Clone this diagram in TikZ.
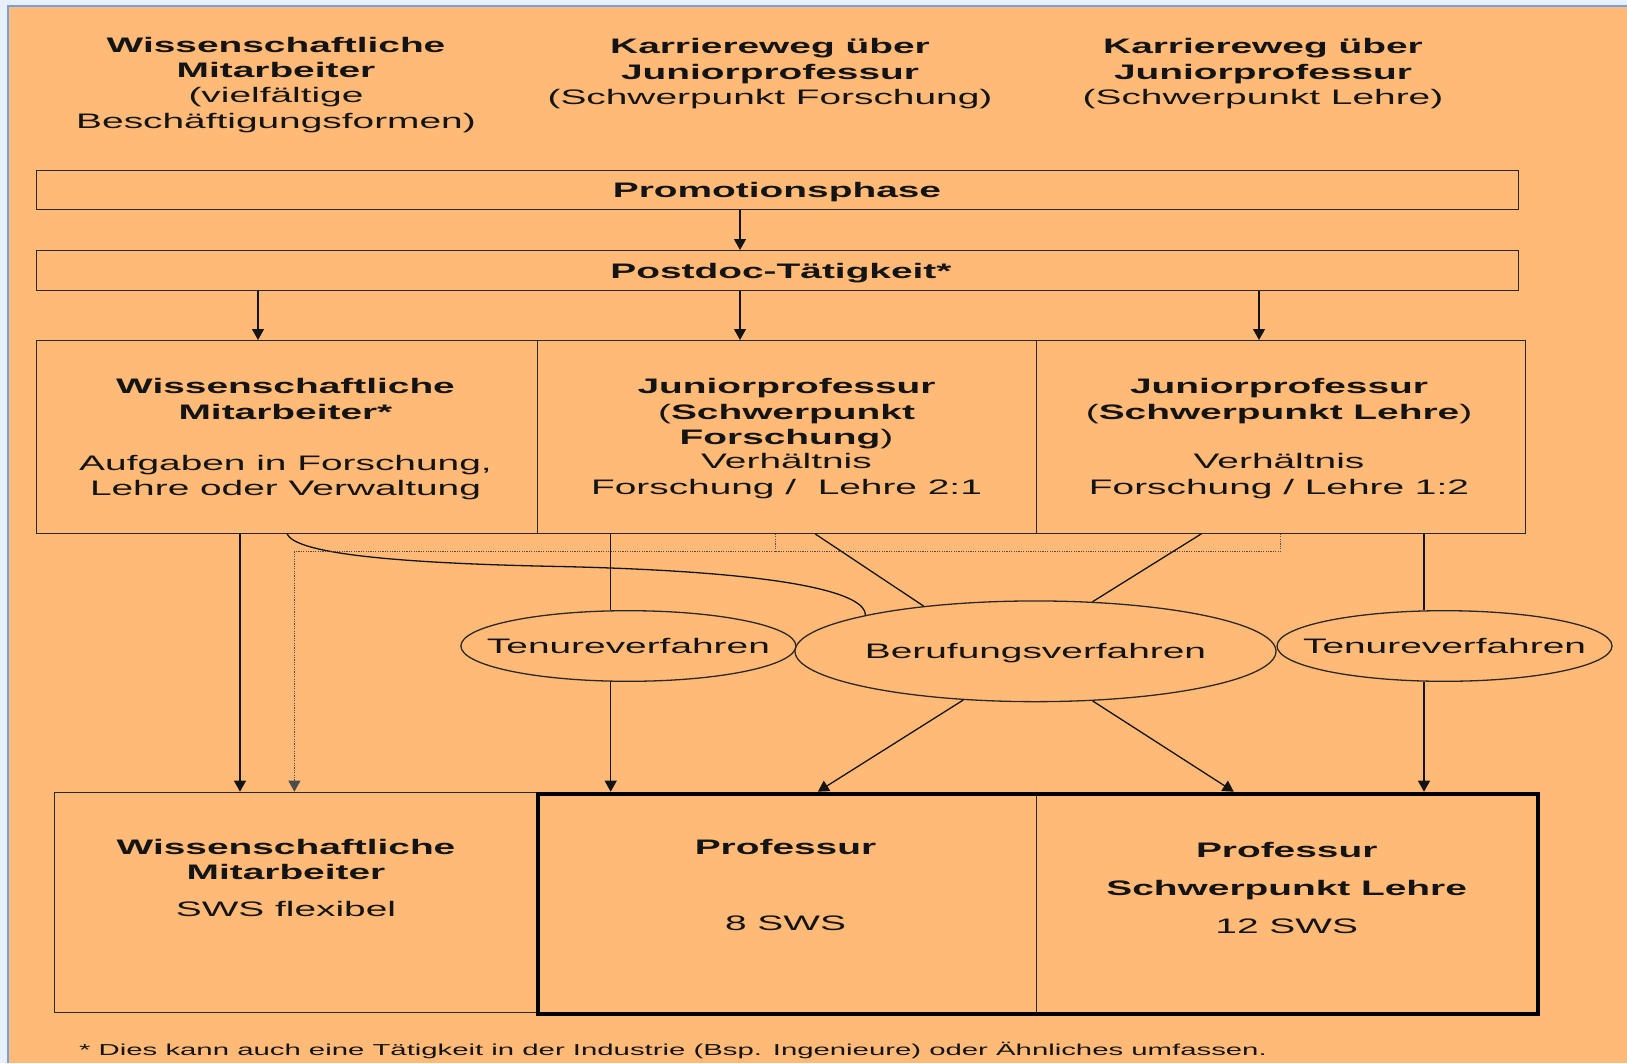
\documentclass[tikz,border=0pt]{standalone}
\usepackage{fontspec}
\setmainfont{Liberation Sans}[FakeStretch=1.85]
\usetikzlibrary{shapes.geometric,arrows.meta}
\definecolor{bgorange}{RGB}{255,186,120}
\definecolor{outerblue}{RGB}{232,240,252}
\definecolor{borderblue}{RGB}{120,160,225}
\definecolor{ink}{RGB}{20,20,20}
\definecolor{boxline}{RGB}{45,40,35}
\begin{document}
\begin{tikzpicture}[x=1pt,y=-1pt,
  lbl/.style={anchor=base, inner sep=0pt, text=ink, font=\fontsize{21}{25}\selectfont},
  lblb/.style={lbl, font=\fontsize{21}{25}\selectfont\bfseries},
  box/.style={draw=boxline, line width=1.3pt, anchor=north west, inner sep=0pt},
  oval/.style={ellipse, draw=boxline, line width=1.3pt, inner sep=0pt, text=ink, font=\fontsize{21}{25}\selectfont, text height=15pt, text depth=0pt},
  con/.style={draw=ink, line width=1.3pt},
  arr/.style={con, -{Triangle[width=12pt,length=11pt]}},
  dots/.style={draw=black!70, line width=1pt, dash pattern=on 1.2pt off 1.2pt},
]
\useasboundingbox (0,0) rectangle (1627,1063);
\fill[outerblue] (0,0) rectangle (1627,1063);
\fill[bgorange] (8,6) rectangle (1627,1063);
\draw[borderblue, line width=1.5pt] (8,1063) -- (8,6) -- (1627,6);

% header texts
\node[lblb] (h1a) at (276,52.3) {Wissenschaftliche};
\node[lblb] (h1b) at (276,77.7) {Mitarbeiter};
\node[lbl]  (h1c) at (276,102.3) {(vielfältige};
\node[lbl]  (h1d) at (276,128.3) {Beschäftigungsformen)};
\node[lblb] (h2a) at (770,53.3) {Karriereweg über};
\node[lblb] (h2b) at (770,79) {Juniorprofessur};
\node[lbl]  (h2c) at (770,104) {(Schwerpunkt Forschung)};
\node[lblb] (h3a) at (1263,53.3) {Karriereweg über};
\node[lblb] (h3b) at (1263,79) {Juniorprofessur};
\node[lbl]  (h3c) at (1263,104) {(Schwerpunkt Lehre)};

% boxes
\node[box, minimum width=1482.3pt, minimum height=39pt] (prom) at (35.7,170) {};
\node[box, minimum width=1482.3pt, minimum height=40pt] (post) at (35.7,250) {};
\node[lblb] (promt) at (777,197.3) {Promotionsphase};
\node[lblb] (postt) at (781,278) {Postdoc-Tätigkeit*};

\node[box, minimum width=501.3pt, minimum height=192.5pt] (wm1) at (35.7,340) {};
\node[box, minimum width=498.8pt, minimum height=192.5pt] (jf) at (537,340) {};
\node[box, minimum width=489pt, minimum height=192.5pt] (jl) at (1035.8,340) {};

\node[lblb] (wm1a) at (285.5,393.3) {Wissenschaftliche};
\node[lblb] (wm1b) at (285.5,419.3) {Mitarbeiter*};
\node[lbl]  (wm1c) at (285.5,470) {Aufgaben in Forschung,};
\node[lbl]  (wm1d) at (285.5,495.7) {Lehre oder Verwaltung};

\node[lblb] (jfa) at (786.5,393.3) {Juniorprofessur};
\node[lblb] (jfb) at (786.5,419.3) {{\mdseries(}Schwerpunkt};
\node[lblb] (jfc) at (786.5,444.3) {Forschung{\mdseries)}};
\node[lbl]  (jfd) at (786.5,468.3) {Verhältnis};
\node[lbl]  (jfe) at (786.5,494.3) {Forschung /~ Lehre 2:1};

\node[lblb] (jla) at (1279,393.3) {Juniorprofessur};
\node[lblb] (jlb) at (1279,419.3) {{\mdseries(}Schwerpunkt Lehre{\mdseries)}};
\node[lbl]  (jlc) at (1279,468.3) {Verhältnis};
\node[lbl]  (jld) at (1279,494.3) {Forschung / Lehre 1:2};

% ellipses
\node[oval, minimum width=335pt, minimum height=70.6pt] (tl) at (628.4,646) {\makebox[0pt]{Tenureverfahren}};
\node[oval, minimum width=481pt, minimum height=100.7pt] (ber) at (1035.5,651.3) {\makebox[0pt]{Berufungsverfahren}};
\node[oval, minimum width=335pt, minimum height=70.6pt] (tr) at (1444.5,646) {\makebox[0pt]{Tenureverfahren}};

% bottom boxes
\node[box, minimum width=482pt, minimum height=220.3pt] (wm2) at (53.6,791.7) {};
\node[box, minimum width=499.8pt, minimum height=220pt] (p1) at (535.7,791.7) {};
\node[box, minimum width=500pt, minimum height=220pt] (p2) at (1035.5,791.7) {};
\node[box, draw=black, line width=4.5pt, minimum width=1000pt, minimum height=220pt] (pall) at (535.7,791.7) {};

\node[lblb] (wm2a) at (286,854) {Wissenschaftliche};
\node[lblb] (wm2b) at (286,879.3) {Mitarbeiter};
\node[lbl]  (wm2c) at (286,916.7) {SWS flexibel};
\node[lblb] (p1a) at (785.5,854) {Professur};
\node[lbl]  (p1b) at (785.5,930.7) {8 SWS};
\node[lblb] (p2a) at (1286.7,857.3) {Professur};
\node[lblb] (p2b) at (1286.7,895) {Schwerpunkt Lehre};
\node[lbl]  (p2c) at (1286.7,933.3) {12 SWS};

\node[lbl, anchor=base west, font=\fontsize{15.85}{19}\selectfont] (foot) at (79,1055.3) {* Dies kann auch eine Tätigkeit in der Industrie (Bsp. Ingenieure) oder Ähnliches umfassen.};

% coordinates
\coordinate (xA) at (740,0);
\coordinate (xL) at (258,0);
\coordinate (xR) at (1259,0);
\coordinate (xW) at (240,0);
\coordinate (xT1) at (610.7,0);
\coordinate (xT2) at (1424,0);
\coordinate (dR) at (1280,551.7);
\coordinate (dM) at (775.5,551.7);
\coordinate (dL) at (294.4,551.7);
\coordinate (xB1) at (817.8,0);
\coordinate (xB2) at (1233.8,0);
\coordinate (xF1) at (815,0);
\coordinate (xF2) at (1201.4,0);

% connectors
\draw[arr] (xA |- prom.south) -- (xA |- post.north);
\draw[arr] (xL |- post.south) -- (xL |- wm1.north);
\draw[arr] (xA |- post.south) -- (xA |- jf.north);
\draw[arr] (xR |- post.south) -- (xR |- jl.north);
\draw[arr] (xW |- wm1.south) -- (xW |- wm2.north);
\draw[con] (wm1.south) .. controls (295,552) and (380,563) .. (560,566.5) .. controls (800,572) and (866,595) .. (ber.168);
\draw[dots, -{Triangle[width=12pt,length=11pt]}] (dR |- jl.south) -- (dR) -- (dL) -- (dL |- wm2.north);
\draw[dots] (dM |- jf.south) -- (dM);
\draw[con] (xT1 |- jf.south) -- (xT1 |- tl.north);
\draw[arr] (xT1 |- tl.south) -- (xT1 |- p1.north);
\draw[con] (xF1 |- jf.south) -- (ber.158);
\draw[con] (xF2 |- jl.south) -- (ber.41);
\draw[arr] (ber.214) -- (xB1 |- p1.north);
\draw[arr] (ber.319) -- (xB2 |- p2.north);
\draw[con] (xT2 |- jl.south) -- (xT2 |- tr.north);
\draw[arr] (xT2 |- tr.south) -- (xT2 |- p2.north);
\end{tikzpicture}
\end{document}
